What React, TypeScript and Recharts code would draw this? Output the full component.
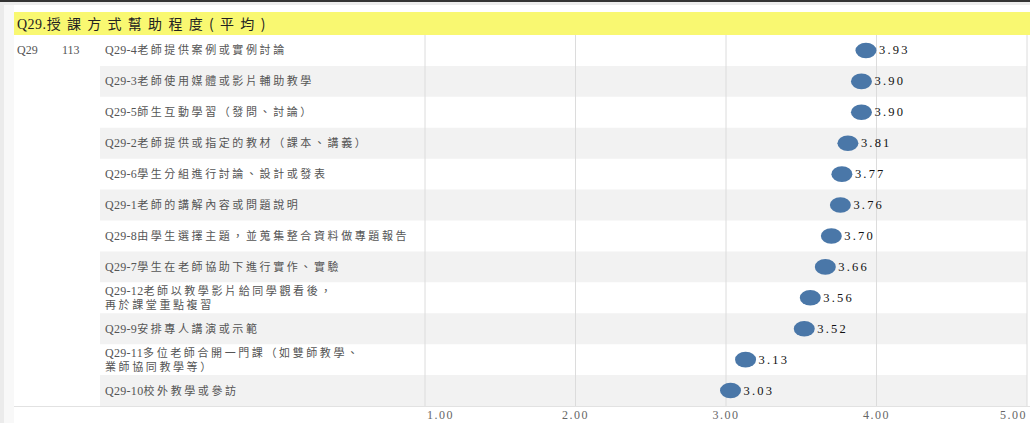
import React from 'react';
import { ScatterChart, Scatter, XAxis, YAxis, ReferenceArea, ReferenceLine } from 'recharts';

const TITLE_CODE = 'Q29.';
const TITLE_TEXT = '授課方式幫助程度(平均)';
const QUESTION = 'Q29';
const YEAR = '113';

const categories = [
  'Q29-4老師提供案例或實例討論',
  'Q29-3老師使用媒體或影片輔助教學',
  'Q29-5師生互動學習（發問、討論）',
  'Q29-2老師提供或指定的教材（課本、講義）',
  'Q29-6學生分組進行討論、設計或發表',
  'Q29-1老師的講解內容或問題說明',
  'Q29-8由學生選擇主題，並蒐集整合資料做專題報告',
  'Q29-7學生在老師協助下進行實作、實驗',
  'Q29-12老師以教學影片給同學觀看後，\n再於課堂重點複習',
  'Q29-9安排專人講演或示範',
  'Q29-11多位老師合開一門課（如雙師教學、\n業師協同教學等）',
  'Q29-10校外教學或參訪',
];
const values = [3.93, 3.9, 3.9, 3.81, 3.77, 3.76, 3.7, 3.66, 3.56, 3.52, 3.13, 3.03];
const xTicks = [1, 2, 3, 4, 5];

const W = 1030;
const H = 423;
const PLOT_TOP = 35;
const PLOT_BOTTOM = 406;
const LABEL_LEFT = 100;
const AXIS_LEFT = 425;
const PLOT_RIGHT = 1027;
const X_MIN = xTicks[0];
const X_MAX = xTicks[xTicks.length - 1];
const UNIT = (PLOT_RIGHT - AXIS_LEFT) / (X_MAX - X_MIN);
const DOMAIN_MIN = X_MIN - (AXIS_LEFT - LABEL_LEFT) / UNIT;

const SERIF = "'Liberation Serif', 'Noto Sans CJK TC', serif";
const CJK = "'Noto Sans CJK TC', 'Liberation Serif', serif";

const rows = categories.map((name, i) => ({ name, value: values[i] }));

const CategoryTick = (props: any) => {
  const { y, payload, index } = props;
  const lines: string[] = String(payload.value).split('\n');
  const lh = 14;
  const y0 = y - ((lines.length - 1) * lh) / 2;
  return (
    <g>
      {index === 0 && (
        <>
          <text x={17} y={y} dy={4} fontSize={12} fill="#555" fontFamily={SERIF}>{QUESTION}</text>
          <text x={62} y={y} dy={4} fontSize={12} fill="#555" fontFamily={SERIF}>{YEAR}</text>
        </>
      )}
      {lines.map((ln, li) => {
        const m = ln.match(/^(Q\d+-\d+)(.*)$/);
        return (
          <text key={li} x={105} y={y0 + li * lh} dy={4} fontSize={11} fill="#555" fontFamily={CJK}>
            {m ? (
              <>
                <tspan fontFamily={SERIF} fontSize={12} letterSpacing={0.3}>{m[1]}</tspan>
                <tspan letterSpacing={2.6}>{m[2]}</tspan>
              </>
            ) : (
              <tspan letterSpacing={2.6}>{ln}</tspan>
            )}
          </text>
        );
      })}
    </g>
  );
};

const ValueTick = (props: any) => {
  const { x, y, payload, index } = props;
  const last = index === xTicks.length - 1;
  const first = index === 0;
  return (
    <text
      x={first ? x + 2 : x}
      y={y}
      dy={5}
      textAnchor={first ? 'start' : last ? 'end' : 'middle'}
      fontSize={12}
      fill="#666"
      letterSpacing={1.5}
      fontFamily={SERIF}
    >
      {Number(payload.value).toFixed(2)}
    </text>
  );
};

const Dot = (props: any) => {
  const { cx, cy, payload } = props;
  return (
    <g>
      <ellipse cx={cx} cy={cy} rx={10.5} ry={7.8} fill="#4a77a8" />
      <text x={cx + 13} y={cy} dy={4} fontSize={12.5} fill="#111" letterSpacing={2.2} fontFamily={SERIF}>
        {payload.value.toFixed(2)}
      </text>
    </g>
  );
};

export default function App() {
  return (
    <div style={{ position: 'absolute', left: 0, top: 0, width: W, height: H, background: '#fff', overflow: 'hidden' }}>
      <div style={{ position: 'absolute', left: 0, top: 0, width: 4, height: H, background: '#ebebeb' }} />
      <div style={{ position: 'absolute', left: 4, top: 0, width: 10, height: H, background: '#f8f8f8' }} />
      <div style={{ position: 'absolute', left: 0, top: 0, width: W, height: 2, background: '#333' }} />
      <div style={{ position: 'absolute', left: 4, top: 2, width: W, height: 3, background: '#ececec' }} />
      <div style={{ position: 'absolute', left: 14, top: 12, width: W - 14, height: 23, background: '#f9f871' }} />
      <div style={{ position: 'absolute', left: 14, top: PLOT_TOP, width: W - 14, height: PLOT_BOTTOM - PLOT_TOP, background: '#fff' }} />
      <div style={{ position: 'absolute', left: 14, top: PLOT_BOTTOM, width: W - 14, height: 1, background: '#e2e2e2' }} />
      <div style={{ position: 'absolute', left: 17, top: 12, height: 23, lineHeight: '23px', whiteSpace: 'nowrap', color: '#222', fontSize: 14 }}>
        <span style={{ fontFamily: SERIF, letterSpacing: 0.5 }}>{TITLE_CODE}</span>
        <span style={{ fontFamily: CJK, letterSpacing: 6.3 }}>{TITLE_TEXT}</span>
      </div>
      <div style={{ position: 'absolute', left: 0, top: 0 }}>
        <ScatterChart width={W} height={H} margin={{ top: PLOT_TOP, right: W - PLOT_RIGHT, bottom: 0, left: 0 }}>
          <XAxis
            type="number"
            dataKey="value"
            domain={[DOMAIN_MIN, X_MAX]}
            ticks={xTicks}
            allowDataOverflow
            axisLine={false}
            tickLine={false}
            height={H - PLOT_BOTTOM}
            tick={<ValueTick />}
            interval={0}
          />
          <YAxis
            type="category"
            dataKey="name"
            width={LABEL_LEFT}
            axisLine={false}
            tickLine={false}
            reversed
            interval={0}
            tick={<CategoryTick />}
          />
          {categories.map((c, i) =>
            i % 2 === 1 ? (
              <ReferenceArea key={c} y1={c} y2={c} fill="#f2f2f2" fillOpacity={1} stroke="none" ifOverflow="visible" />
            ) : null
          )}
          {xTicks.map((t) => (
            <ReferenceLine key={t} x={t} stroke="#dcdcdc" strokeWidth={1} />
          ))}
          <Scatter data={rows} isAnimationActive={false} shape={<Dot />} />
        </ScatterChart>
      </div>
    </div>
  );
}
